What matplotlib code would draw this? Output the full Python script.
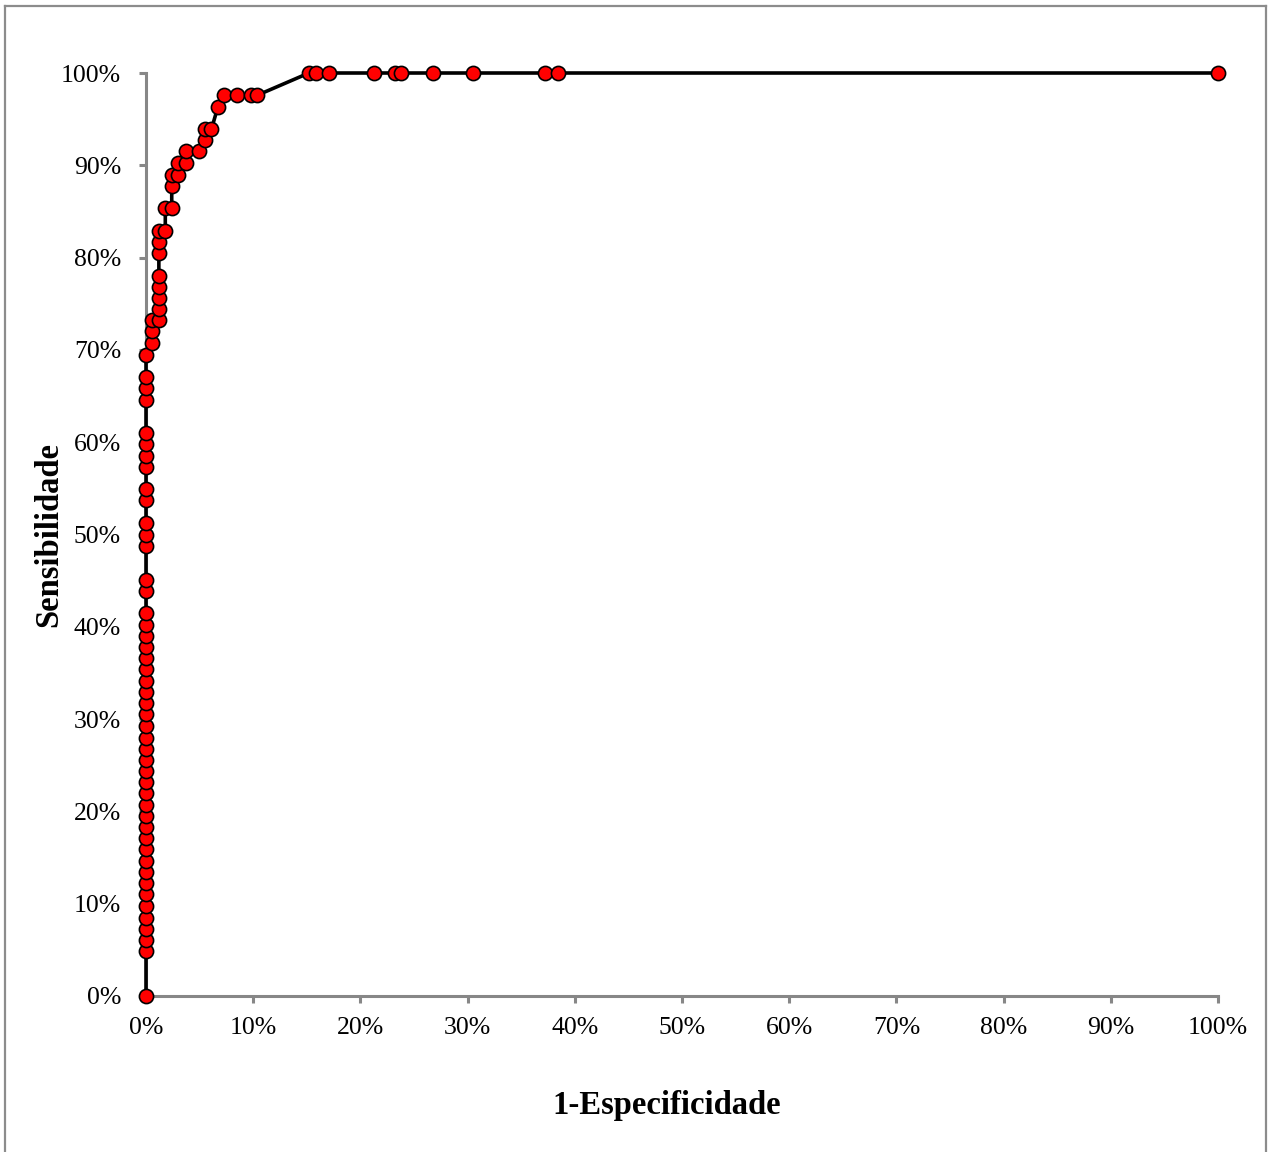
import matplotlib
matplotlib.use("Agg")
import matplotlib.pyplot as plt
from matplotlib.lines import Line2D

# ROC points (percent)
fpr = [0, 0, 0, 0, 0, 0, 0, 0, 0, 0, 0, 0, 0, 0, 0, 0,
       0, 0, 0, 0, 0, 0, 0, 0, 0, 0, 0, 0, 0, 0, 0, 0,
       0, 0, 0, 0, 0, 0, 0, 0, 0, 0, 0, 0, 0, 0, 0,
       0.6, 0.6, 0.6,
       1.2, 1.2, 1.2, 1.2, 1.2, 1.2, 1.2, 1.2,
       1.8, 1.8,
       2.4, 2.4, 2.4,
       3.0, 3.0,
       3.7, 3.7,
       4.9,
       5.5, 5.5,
       6.1,
       6.7,
       7.3, 8.5, 9.8, 10.4,
       15.2, 15.9, 17.1, 21.3, 23.2, 23.8, 26.8, 30.5, 37.2, 38.4, 100]
tpr = [0, 4.9, 6.1, 7.3, 8.5, 9.8, 11.0, 12.2, 13.4, 14.6, 15.9, 17.1, 18.3, 19.5, 20.7, 22.0,
       23.2, 24.4, 25.6, 26.8, 28.0, 29.3, 30.5, 31.7, 32.9, 34.1, 35.4, 36.6, 37.8, 39.0, 40.2, 41.5,
       43.9, 45.1, 48.8, 50.0, 51.2, 53.7, 54.9, 57.3, 58.5, 59.8, 61.0, 64.6, 65.9, 67.1, 69.5,
       70.7, 72.0, 73.2,
       73.2, 74.4, 75.6, 76.8, 78.0, 80.5, 81.7, 82.9,
       82.9, 85.4,
       85.4, 87.8, 89.0,
       89.0, 90.2,
       90.2, 91.5,
       91.5,
       92.7, 93.9,
       93.9,
       96.3,
       97.6, 97.6, 97.6, 97.6,
       100, 100, 100, 100, 100, 100, 100, 100, 100, 100, 100]

ticks = [0, 10, 20, 30, 40, 50, 60, 70, 80, 90, 100]
xlabel = "1-Especificidade"
ylabel = "Sensibilidade"

W, H = 1271, 1152
fig = plt.figure(figsize=(W / 100, H / 100), dpi=100)
plt.rcParams['font.family'] = ['Liberation Serif', 'DejaVu Serif']

# axes box in pixels: x 146..1218, y 73..996
ax = fig.add_axes([146 / W, 1 - 996 / H, (1218 - 146) / W, (996 - 73) / H])

ax.plot(fpr, tpr, color='black', linewidth=2.6, marker='o', markersize=10.2,
        markerfacecolor='#ff0000', markeredgecolor='black', markeredgewidth=1.2,
        clip_on=False, zorder=5)

ax.set_xlim(0, 100)
ax.set_ylim(0, 100)
ax.set_xticks(ticks)
ax.set_yticks(ticks)
ax.set_xticklabels([f"{t}%" for t in ticks])
ax.set_yticklabels([f"{t}%" for t in ticks])

gray = '#878787'
for side in ['top', 'right']:
    ax.spines[side].set_visible(False)
for side in ['left', 'bottom']:
    ax.spines[side].set_color(gray)
    ax.spines[side].set_linewidth(2.2)
ax.tick_params(axis='both', colors=gray, width=2.2, length=5, labelcolor='black',
               labelsize=18.5)
ax.tick_params(axis='y', pad=13)
ax.tick_params(axis='x', pad=10)

ax.set_xlabel(xlabel, fontsize=23.5, fontweight='bold')
ax.xaxis.set_label_coords((667 - 146) / 1072, -(1090 - 996) / 923)
ax.set_ylabel(ylabel, fontsize=23.5, fontweight='bold')
ax.yaxis.set_label_coords(-(146 - 64) / 1072, 0.5)

# outer chart border
bc = '#8c8c8c'
fig.add_artist(Line2D([5 / W, 5 / W], [0, 1 - 6 / H], color=bc, linewidth=1.6))
fig.add_artist(Line2D([5 / W, 1266 / W], [1 - 6 / H, 1 - 6 / H], color=bc, linewidth=1.6))
fig.add_artist(Line2D([1266 / W, 1266 / W], [0, 1 - 6 / H], color=bc, linewidth=1.6))

fig.savefig("out.png", dpi=100, facecolor='white')
